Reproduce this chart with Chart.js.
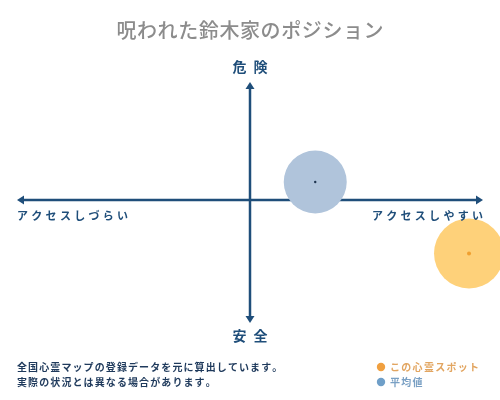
<!DOCTYPE html>
<html>
<head>
<meta charset="utf-8">
<script src="https://cdn.jsdelivr.net/npm/chart.js@4"></script>
<style>
html,body{margin:0;padding:0;background:#fff;}
#wrap{width:500px;height:400px;}
</style>
</head>
<body>
<div id="wrap"><canvas id="c" width="500" height="400"></canvas></div>
<script>
// ---- data ----
const titleText = "呪われた鈴木家のポジション";
const axisTop = "危険";
const axisBottom = "安全";
const axisLeft = "アクセスしづらい";
const axisRight = "アクセスしやすい";
const seriesLabels = ["この心霊スポット", "平均値"];
const spotX = [9.4];
const spotY = [-4.45];
const spotR = [35];
const avgX = [2.8];
const avgY = [1.5];
const avgR = [31.5];
const notes = ["全国心霊マップの登録データを元に算出しています。", "実際の状況とは異なる場合があります。"];
const axisMin = -10, axisMax = 10;

const FONT = '"Noto Sans CJK JP", "Noto Sans", sans-serif';
const NAVY = '#1f4e7a';

function toPoints(xs, ys, rs) { return xs.map((x, i) => ({x: x, y: ys[i], r: rs[i]})); }
function toDots(xs, ys, r) { return xs.map((x, i) => ({x: x, y: ys[i], r: r})); }

function spacedWidth(ctx, text, sp) {
  let w = 0; const chars = Array.from(text);
  chars.forEach((ch, i) => { w += ctx.measureText(ch).width + (i < chars.length - 1 ? sp : 0); });
  return w;
}
function drawSpaced(ctx, text, x, y, sp, align) {
  const w = spacedWidth(ctx, text, sp);
  let cx = align === 'center' ? x - w / 2 : align === 'right' ? x - w : x;
  ctx.textAlign = 'left';
  ctx.textBaseline = 'middle';
  for (const ch of Array.from(text)) { ctx.fillText(ch, cx, y); cx += ctx.measureText(ch).width + sp; }
}
function arrowHead(ctx, x, y, dir) {
  const L = 7, W = 4.5;
  ctx.beginPath();
  if (dir === 'up') { ctx.moveTo(x, y); ctx.lineTo(x - W, y + L); ctx.lineTo(x + W, y + L); }
  if (dir === 'down') { ctx.moveTo(x, y); ctx.lineTo(x - W, y - L); ctx.lineTo(x + W, y - L); }
  if (dir === 'left') { ctx.moveTo(x, y); ctx.lineTo(x + L, y - W); ctx.lineTo(x + L, y + W); }
  if (dir === 'right') { ctx.moveTo(x, y); ctx.lineTo(x - L, y - W); ctx.lineTo(x - L, y + W); }
  ctx.closePath(); ctx.fill();
}

const axesPlugin = {
  id: 'axesPlugin',
  beforeDatasetsDraw(chart) {
    const ctx = chart.ctx, xs = chart.scales.x, ys = chart.scales.y;
    const x0 = xs.getPixelForValue(0), y0 = ys.getPixelForValue(0);
    const l = xs.getPixelForValue(axisMin), r = xs.getPixelForValue(axisMax);
    const t = ys.getPixelForValue(axisMax) + 2, b = ys.getPixelForValue(axisMin) + 3;
    ctx.save();
    ctx.strokeStyle = NAVY; ctx.fillStyle = NAVY; ctx.lineWidth = 2.5;
    ctx.beginPath(); ctx.moveTo(l + 4, y0); ctx.lineTo(r - 4, y0); ctx.stroke();
    ctx.beginPath(); ctx.moveTo(x0, t + 4); ctx.lineTo(x0, b - 4); ctx.stroke();
    arrowHead(ctx, l, y0, 'left'); arrowHead(ctx, r, y0, 'right');
    arrowHead(ctx, x0, t, 'up'); arrowHead(ctx, x0, b, 'down');
    ctx.restore();
  },
  afterDraw(chart) {
    const ctx = chart.ctx, xs = chart.scales.x, ys = chart.scales.y;
    const x0 = xs.getPixelForValue(0), y0 = ys.getPixelForValue(0);
    const l = xs.getPixelForValue(axisMin), r = xs.getPixelForValue(axisMax);
    ctx.save();
    // title
    ctx.fillStyle = '#8c8c8c'; ctx.font = '500 20px ' + FONT;
    drawSpaced(ctx, titleText, 250, 30, 0.6, 'center');
    // axis labels
    ctx.fillStyle = NAVY; ctx.font = 'bold 14px ' + FONT;
    drawSpaced(ctx, axisTop, x0, 67, 7, 'center');
    drawSpaced(ctx, axisBottom, x0, 336, 7, 'center');
    ctx.font = 'bold 11px ' + FONT;
    drawSpaced(ctx, axisLeft, l, y0 + 16, 3.3, 'left');
    drawSpaced(ctx, axisRight, r, y0 + 16, 3.3, 'right');
    // notes
    ctx.fillStyle = '#1f3a5c'; ctx.font = 'bold 10px ' + FONT;
    drawSpaced(ctx, notes[0], 17, 367, 1.1, 'left');
    drawSpaced(ctx, notes[1], 17, 382, 1.1, 'left');
    // legend
    const legendCols = [['#f0a040', '#e2a560'], ['#6f9fc8', '#7aa0c4']];
    seriesLabels.forEach((lab, i) => {
      const yy = 367 + i * 15;
      ctx.fillStyle = legendCols[i][0];
      ctx.beginPath(); ctx.arc(381, yy, 4.2, 0, Math.PI * 2); ctx.fill();
      ctx.fillStyle = legendCols[i][1]; ctx.font = 'bold 10px ' + FONT;
      drawSpaced(ctx, lab, 390, yy, 1.3, 'left');
    });
    ctx.restore();
  }
};

new Chart(document.getElementById('c'), {
  type: 'bubble',
  data: {
    datasets: [
      { label: seriesLabels[1], data: toPoints(avgX, avgY, avgR), backgroundColor: 'rgba(176,196,219,1)', borderWidth: 0, clip: false, order: 3 },
      { label: seriesLabels[0], data: toPoints(spotX, spotY, spotR), backgroundColor: 'rgba(254,209,122,1)', borderWidth: 0, clip: false, order: 2 },
      { label: 'avgc', data: toDots(avgX, avgY, 1.2), backgroundColor: '#1f3550', borderWidth: 0, clip: false, order: 1 },
      { label: 'spotc', data: toDots(spotX, spotY, 2), backgroundColor: '#f0a030', borderWidth: 0, clip: false, order: 0 }
    ]
  },
  options: {
    responsive: false,
    animation: false,
    events: [],
    layout: { autoPadding: false, padding: { left: 17, right: 17, top: 80, bottom: 80 } },
    scales: {
      x: { display: false, min: axisMin, max: axisMax },
      y: { display: false, min: axisMin, max: axisMax }
    },
    plugins: { legend: { display: false }, tooltip: { enabled: false } }
  },
  plugins: [axesPlugin]
});
</script>
</body>
</html>
